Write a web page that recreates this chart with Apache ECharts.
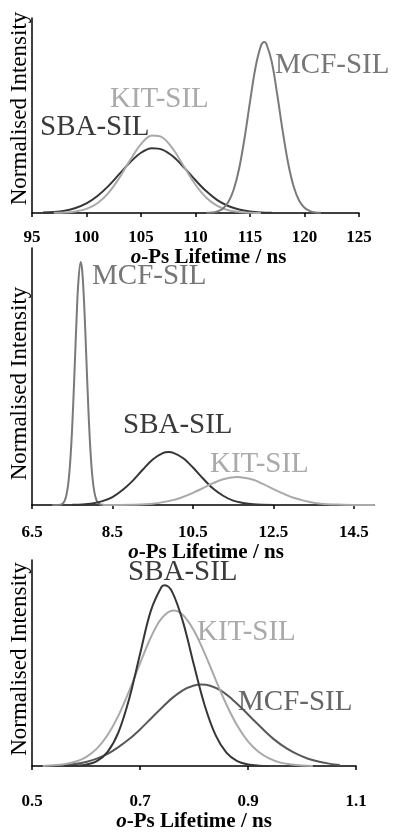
<!DOCTYPE html>
<html>
<head>
<meta charset="utf-8">
<script src="https://cdn.jsdelivr.net/npm/echarts@6/dist/echarts.min.js"></script>
<style>
html,body{margin:0;padding:0;background:#fff;}
#c{width:395px;height:833px;}
</style>
</head>
<body>
<div id="c"></div>
<script>
// ---- Data ----
// Panel 1 (o-Ps lifetime 95-125 ns)
const ticks1 = [95, 100, 105, 110, 115, 120, 125];
const sba1 = [[96,0.002],[97,0.005],[98,0.012],[99,0.026],[100,0.049],[101,0.087],[102,0.138],[103,0.199],[104,0.260],[105,0.309],[106,0.332],[107,0.324],[108,0.287],[109,0.230],[110,0.168],[111,0.111],[112,0.066],[113,0.036],[114,0.018],[115,0.008],[116,0.003],[117,0.001]];
const kit1 = [[97,0.001],[98,0.002],[99,0.008],[100,0.021],[101,0.050],[102,0.102],[103,0.179],[104,0.271],[105,0.353],[106,0.397],[107,0.386],[108,0.323],[109,0.233],[110,0.145],[111,0.078],[112,0.036],[113,0.014],[114,0.005],[115,0.001],[116,0.000]];
const mcf1 = [[111,0.001],[111.5,0.002],[112,0.008],[112.5,0.022],[113,0.055],[113.5,0.119],[114,0.227],[114.5,0.384],[115,0.570],[115.5,0.745],[116,0.857],[116.3,0.877],[116.5,0.868],[117,0.774],[117.5,0.607],[118,0.420],[118.5,0.255],[119,0.137],[119.5,0.064],[120,0.027],[120.5,0.010],[121,0.003],[121.5,0.001]];

// Panel 2 (o-Ps lifetime 6.5-14.5 ns)
const ticks2 = [6.5, 8.5, 10.5, 12.5, 14.5];
const mcf2 = [[7.0,0.000],[7.15,0.000],[7.2,0.001],[7.25,0.004],[7.3,0.013],[7.35,0.035],[7.4,0.081],[7.45,0.169],[7.5,0.307],[7.55,0.492],[7.6,0.695],[7.65,0.863],[7.71,0.946],[7.75,0.908],[7.8,0.769],[7.85,0.574],[7.9,0.377],[7.95,0.218],[8.0,0.111],[8.05,0.050],[8.1,0.020],[8.15,0.007],[8.2,0.002],[8.25,0.001],[8.3,0.000]];
const sba2 = [[7.5,0.001],[7.75,0.002],[8.0,0.006],[8.25,0.015],[8.5,0.031],[8.75,0.058],[9.0,0.094],[9.25,0.137],[9.5,0.177],[9.75,0.202],[9.9,0.206],[10.0,0.204],[10.25,0.183],[10.5,0.146],[10.75,0.103],[11.0,0.064],[11.25,0.036],[11.5,0.017],[11.75,0.008],[12.0,0.003],[12.5,0.000]];
const kit2 = [[8.25,0.000],[9.0,0.001],[9.5,0.005],[10.0,0.019],[10.25,0.031],[10.5,0.047],[10.75,0.066],[11.0,0.085],[11.25,0.100],[11.6,0.109],[12.0,0.098],[12.25,0.081],[12.5,0.062],[12.75,0.044],[13.0,0.028],[13.25,0.017],[13.5,0.009],[13.75,0.004],[14.0,0.002],[14.5,0.000],[15.0,0.000]];

// Panel 3 (o-Ps lifetime 0.5-1.1 ns)
const ticks3 = [0.5, 0.7, 0.9, 1.1];
const sba3 = [[0.56,0.000],[0.58,0.002],[0.60,0.007],[0.62,0.024],[0.64,0.069],[0.66,0.164],[0.68,0.327],[0.70,0.543],[0.72,0.753],[0.74,0.870],[0.746,0.877],[0.76,0.843],[0.78,0.696],[0.80,0.489],[0.82,0.293],[0.84,0.150],[0.86,0.065],[0.88,0.024],[0.90,0.008],[0.92,0.002],[0.94,0.000]];
const kit3 = [[0.52,0.001],[0.54,0.004],[0.56,0.009],[0.58,0.021],[0.60,0.044],[0.62,0.085],[0.64,0.151],[0.66,0.245],[0.68,0.365],[0.70,0.498],[0.72,0.624],[0.74,0.717],[0.762,0.755],[0.78,0.732],[0.80,0.657],[0.82,0.546],[0.84,0.420],[0.86,0.299],[0.88,0.197],[0.90,0.120],[0.92,0.068],[0.94,0.036],[0.96,0.017],[0.98,0.008],[1.00,0.003],[1.02,0.001]];
const mcf3 = [[0.56,0.004],[0.58,0.010],[0.60,0.020],[0.62,0.036],[0.64,0.059],[0.66,0.092],[0.68,0.131],[0.70,0.178],[0.72,0.230],[0.74,0.282],[0.76,0.331],[0.78,0.369],[0.80,0.391],[0.814,0.396],[0.83,0.390],[0.85,0.366],[0.87,0.326],[0.89,0.277],[0.91,0.224],[0.93,0.173],[0.95,0.126],[0.97,0.088],[0.99,0.059],[1.01,0.037],[1.03,0.022],[1.05,0.012],[1.07,0.005]];

const seriesNames = ['SBA-SIL', 'KIT-SIL', 'MCF-SIL'];
const xTitle = '{i|o}-Ps Lifetime / ns';
const yTitle = 'Normalised Intensity';

// ---- Styles ----
const SERIF = '"Liberation Serif", "DejaVu Serif", serif';
const C_SBA = '#363636', C_KIT = '#a9a9a9', C_MCF = '#7a7a7a', C_MCF3 = '#585858';

function xAxisFor(idx, min, max, ticks, margin, gap, pad) {
  return {
    type: 'value', gridIndex: idx, min: min, max: max,
    axisLine: {show: true, lineStyle: {color: '#000', width: 1.5}},
    axisTick: {show: true, customValues: ticks, length: 4, lineStyle: {color: '#000', width: 1.5}},
    axisLabel: {show: true, customValues: ticks, margin: margin, color: '#000',
      fontFamily: SERIF, fontWeight: 'bold', fontSize: 17,
      formatter: v => String(v)},
    splitLine: {show: false},
    name: xTitle, nameLocation: 'middle', nameGap: gap,
    nameTextStyle: {fontFamily: SERIF, fontWeight: 'bold', fontSize: 21, color: '#000', padding: pad,
      rich: {i: {fontFamily: SERIF, fontWeight: 'bold', fontStyle: 'italic', fontSize: 21, color: '#000'}}}
  };
}
function yAxisFor(idx, pad) {
  return {
    type: 'value', gridIndex: idx, min: 0, max: 1,
    axisLine: {show: true, lineStyle: {color: '#000', width: 1.5}},
    axisTick: {show: false}, axisLabel: {show: false}, splitLine: {show: false},
    name: yTitle, nameLocation: 'middle', nameGap: 1, nameRotate: 90,
    nameTextStyle: {fontFamily: SERIF, fontSize: 23, color: '#000', padding: pad}
  };
}
function line(idx, data, color, width, type) {
  return {
    type: 'line', xAxisIndex: idx, yAxisIndex: idx, data: data,
    showSymbol: false, smooth: 0.35, animation: false,
    lineStyle: {color: color, width: width, type: type || 'solid'}
  };
}
function label(text, x, y, color) {
  return {type: 'text', x: x, y: y,
    style: {text: text, fill: color, font: '29px ' + SERIF, verticalAlign: 'middle', align: 'left'}};
}

const chart = echarts.init(document.getElementById('c'), null, {renderer: 'canvas'});
chart.setOption({
  animation: false,
  backgroundColor: '#fff',
  grid: [
    {left: 32, top: 18, width: 327, height: 195},
    {left: 31, top: 248, width: 343, height: 257},
    {left: 29, top: 560, width: 327, height: 212}
  ],
  xAxis: [
    xAxisFor(0, 95, 125, ticks1, 16, 29, [0, 0, 0, 26]),
    xAxisFor(1, 6.5, 15, ticks2, 19, 33, [0, 0, 0, 6]),
    xAxisFor(2, 0.5, 1.1, ticks3, 27, 43, [0, 0, 0, 0])
  ],
  yAxis: [yAxisFor(0, [0, 0, 0, 14]), yAxisFor(1, [0, 14, 0, 0]), yAxisFor(2, [0, 0, 0, 8])],
  series: [
    line(0, sba1, C_SBA, 2), line(0, kit1, C_KIT, 2), line(0, mcf1, C_MCF, 2),
    line(1, mcf2, C_MCF, 2), line(1, sba2, C_SBA, 2), line(1, kit2, C_KIT, 2),
    line(2, mcf3, C_MCF3, 2), line(2, kit3, C_KIT, 2), line(2, sba3, C_SBA, 2)
  ],
  graphic: [
    label(seriesNames[2], 275, 65, '#777'),
    label(seriesNames[1], 110, 99, '#aaa'),
    label(seriesNames[0], 40, 127, '#3a3a3a'),
    label(seriesNames[2], 92, 276, '#777'),
    label(seriesNames[0], 123, 425, '#3a3a3a'),
    label(seriesNames[1], 210, 464, '#aaa'),
    label(seriesNames[0], 128, 572, '#3a3a3a'),
    label(seriesNames[1], 197, 632, '#aaa'),
    label(seriesNames[2], 238, 702, '#666')
  ]
});
</script>
</body>
</html>
